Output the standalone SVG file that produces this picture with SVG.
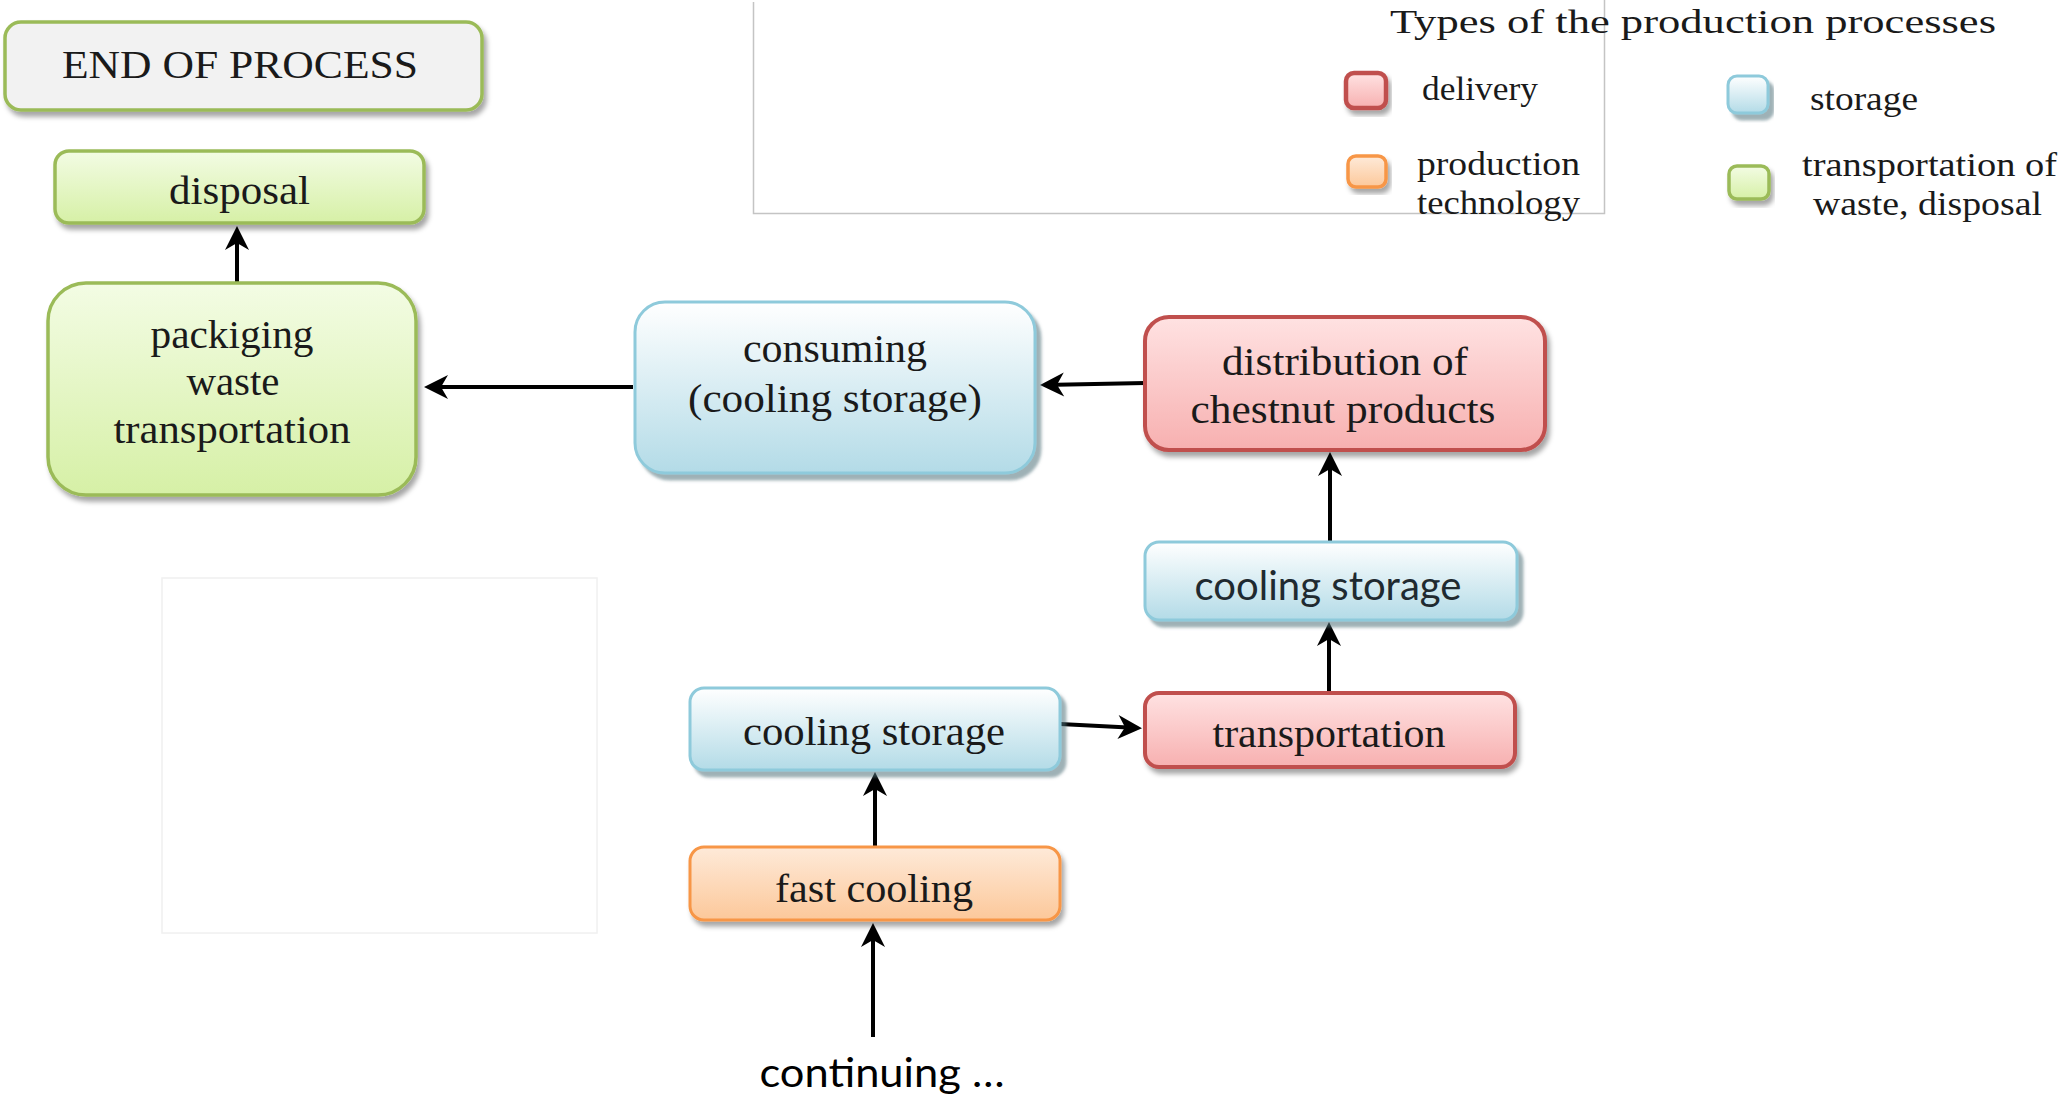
<svg xmlns="http://www.w3.org/2000/svg" width="2063" height="1103" viewBox="0 0 2063 1103">
<defs>
<linearGradient id="gGreen" x1="0" y1="0" x2="0" y2="1"><stop offset="0" stop-color="#f3fce4"/><stop offset="1" stop-color="#d6f0a6"/></linearGradient>
<linearGradient id="gBlue" x1="0" y1="0" x2="0" y2="1"><stop offset="0" stop-color="#ffffff"/><stop offset="1" stop-color="#b3dbe7"/></linearGradient>
<linearGradient id="gRed" x1="0" y1="0" x2="0" y2="1"><stop offset="0" stop-color="#ffe2e2"/><stop offset="1" stop-color="#f7b0b0"/></linearGradient>
<linearGradient id="gOrange" x1="0" y1="0" x2="0" y2="1"><stop offset="0" stop-color="#feead9"/><stop offset="1" stop-color="#fcc89a"/></linearGradient>
<filter id="sh" x="-10%" y="-10%" width="125%" height="135%"><feDropShadow dx="3" dy="5" stdDeviation="2.5" flood-color="#000" flood-opacity="0.35"/></filter>
<filter id="shb" x="-10%" y="-10%" width="125%" height="135%"><feDropShadow dx="5" dy="6" stdDeviation="1.5" flood-color="#4f6f7a" flood-opacity="0.55"/></filter>
<marker id="arr" markerUnits="userSpaceOnUse" markerWidth="26" markerHeight="26" viewBox="0 0 24 26" refX="20" refY="13" orient="auto">
<path d="M0,1 L24,13 L0,25 L7,13 z" fill="#000"/>
</marker>
</defs>
<style>
.green{fill:url(#gGreen);stroke:#9bbb59;stroke-width:3.5}
.grey{fill:#f2f2f2;stroke:#9bbb59;stroke-width:3.5}
.blue{fill:url(#gBlue);stroke:#8ecadb;stroke-width:3}
.red{fill:url(#gRed);stroke:#c0504d;stroke-width:4}
.orange{fill:url(#gOrange);stroke:#f79646;stroke-width:3}
.t{font-family:"Liberation Serif","Times New Roman",serif;font-size:40px;fill:#1a1a1a;text-anchor:middle}
.ts{font-family:Lato,"Open Sans","Liberation Sans",sans-serif;font-size:40px;fill:#1f2a30;text-anchor:middle}
.lg{font-family:"Liberation Serif","Times New Roman",serif;font-size:34px;fill:#1a1a1a}
.con{fill:none;stroke:#000;stroke-width:4;marker-end:url(#arr)}
</style>
<rect width="2063" height="1103" fill="#ffffff"/>

<g id="legend-frame"><path d="M753.5,2 V213.5 H1604.5 V0" fill="none" stroke="#c4c4c4" stroke-width="1.5"/></g>
<g id="faint-box"><rect x="162" y="578" width="435" height="355" fill="none" stroke="#f0f0f0" stroke-width="1.5"/></g>

<g id="legend">
<text class="lg" x="1390" y="33" font-size="42" textLength="606" lengthAdjust="spacingAndGlyphs">Types of the production processes</text>
<rect x="1346" y="73" width="40" height="35" rx="8" fill="url(#gRed)" stroke="#c0504d" stroke-width="4.5" filter="url(#sh)"/>
<text class="lg" x="1422" y="100" textLength="116" lengthAdjust="spacingAndGlyphs">delivery</text>
<rect x="1348" y="156" width="38" height="31" rx="8" fill="url(#gOrange)" stroke="#f79646" stroke-width="3.5" filter="url(#sh)"/>
<text class="lg" x="1417" y="175" textLength="163" lengthAdjust="spacingAndGlyphs">production</text>
<text class="lg" x="1417" y="214" textLength="163" lengthAdjust="spacingAndGlyphs">technology</text>
<rect x="1728" y="76" width="40" height="37" rx="9" fill="url(#gBlue)" stroke="#8ecadb" stroke-width="3" filter="url(#shb)"/>
<text class="lg" x="1810" y="110" textLength="108" lengthAdjust="spacingAndGlyphs">storage</text>
<rect x="1729" y="166" width="40" height="33" rx="8" fill="url(#gGreen)" stroke="#9bbb59" stroke-width="3.5" filter="url(#sh)"/>
<text class="lg" x="1802" y="176" textLength="255" lengthAdjust="spacingAndGlyphs">transportation of</text>
<text class="lg" x="1813" y="215" textLength="229" lengthAdjust="spacingAndGlyphs">waste, disposal</text>
</g>

<g id="connectors">
<path class="con" d="M237,283 V230"/>
<path class="con" d="M633,387 H428"/>
<path class="con" d="M1145,383 L1044,385"/>
<path class="con" d="M1330,541 V456"/>
<path class="con" d="M1329,693 V626"/>
<path class="con" d="M1060,724 L1138,728"/>
<path class="con" d="M875,847 V776"/>
<path class="con" d="M873,1037 V927"/>
</g>

<g id="node-end">
<rect class="grey" x="5" y="22" width="477" height="88" rx="16" filter="url(#sh)"/>
<text class="t" x="240" y="78" font-size="38" textLength="356" lengthAdjust="spacingAndGlyphs">END OF PROCESS</text>
</g>
<g id="node-disposal">
<rect class="green" x="55" y="151" width="369" height="72" rx="14" filter="url(#sh)"/>
<text class="t" x="239.5" y="204" textLength="141" lengthAdjust="spacingAndGlyphs">disposal</text>
</g>
<g id="node-packaging">
<rect class="green" x="48" y="283" width="368" height="212" rx="38" filter="url(#sh)"/>
<text class="t" x="232" y="348" textLength="163" lengthAdjust="spacingAndGlyphs">packiging</text>
<text class="t" x="233" y="395" textLength="93" lengthAdjust="spacingAndGlyphs">waste</text>
<text class="t" x="232" y="443" textLength="237" lengthAdjust="spacingAndGlyphs">transportation</text>
</g>
<g id="node-consuming">
<rect class="blue" x="635" y="302" width="400" height="171" rx="30" filter="url(#shb)"/>
<text class="t" x="835" y="362" textLength="184" lengthAdjust="spacingAndGlyphs">consuming</text>
<text class="t" x="835" y="412" textLength="294" lengthAdjust="spacingAndGlyphs">(cooling storage)</text>
</g>
<g id="node-distribution">
<rect class="red" x="1145" y="317" width="400" height="133" rx="24" filter="url(#sh)"/>
<text class="t" x="1345" y="375" textLength="246" lengthAdjust="spacingAndGlyphs">distribution of</text>
<text class="t" x="1343" y="423" textLength="305" lengthAdjust="spacingAndGlyphs">chestnut products</text>
</g>
<g id="node-cooling-storage-2">
<rect class="blue" x="1145" y="542" width="372" height="78" rx="14" filter="url(#shb)"/>
<text class="ts" x="1328" y="600" textLength="267" lengthAdjust="spacingAndGlyphs">cooling storage</text>
</g>
<g id="node-transportation">
<rect class="red" x="1145" y="693" width="370" height="74" rx="14" filter="url(#sh)"/>
<text class="t" x="1329" y="747" textLength="233" lengthAdjust="spacingAndGlyphs">transportation</text>
</g>
<g id="node-cooling-storage-1">
<rect class="blue" x="690" y="688" width="370" height="82" rx="14" filter="url(#shb)"/>
<text class="t" x="874" y="745" textLength="262" lengthAdjust="spacingAndGlyphs">cooling storage</text>
</g>
<g id="node-fast-cooling">
<rect class="orange" x="690" y="847" width="370" height="73" rx="14" filter="url(#sh)"/>
<text class="t" x="874" y="902" textLength="198" lengthAdjust="spacingAndGlyphs">fast cooling</text>
</g>
<g id="node-continuing">
<text class="ts" x="882" y="1087" font-size="44" style="fill:#000" textLength="245" lengthAdjust="spacingAndGlyphs">continuing …</text>
</g>
</svg>
